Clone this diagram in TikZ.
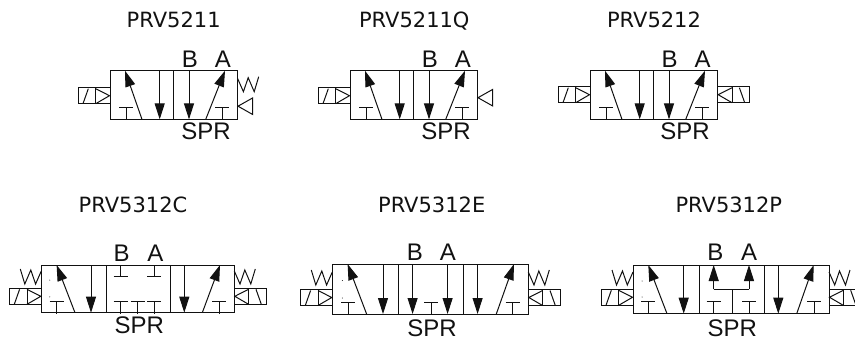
\documentclass[tikz,border=0pt]{standalone}
\usepackage{fontspec}
\setmainfont{DejaVu Sans}
\newfontfamily\portfont{Liberation Sans}
\usetikzlibrary{arrows.meta}
\definecolor{ink}{HTML}{111111}
\tikzset{
  sym/.style={draw=ink,line width=1pt,line join=miter},
  thin sym/.style={draw=ink,line width=1pt},
  flow/.style={sym,-{Triangle[length=16pt,width=10pt]}},
  title/.style={font=\fontsize{21pt}{24pt}\selectfont,text=ink,inner sep=0pt,anchor=base},
  port/.style={font=\portfont\fontsize{24pt}{26pt}\selectfont,text=ink,inner sep=0pt,anchor=base},
  solenoidpic/.pic={
    \draw[sym] (-32,0) rectangle (0,16);
    \draw[sym] (-14.3,0) -- (-14.3,16);
    \draw[sym] (-14.3,1) -- (-0.5,8) -- (-14.3,16);
    \draw[sym] (-27,16) -- (-21.7,1);
  },
  springpic/.pic={
    \draw[thin sym] (-21,0) -- (-16.5,15) -- (-10.5,1) -- (-5.7,15) -- (0,2);
  },
  pilotpic/.pic={
    \draw[sym] (15,-8.3) -- (0.3,0) -- (15,8.3) -- cycle;
  },
  teepic/.pic={
    \draw[sym] (-7,0) -- (7,0);
    \draw[sym] (0,0) -- (0,12);
  }
}
\begin{document}
\begin{tikzpicture}[x=1pt,y=-1pt]
\useasboundingbox (0,0) rectangle (855,340);
% titles
\node[title] (t1) at (173.7,27.3) {PRV5211};
\node[title] (t2) at (414.3,27.3) {PRV5211Q};
\node[title] (t3) at (654,27.3) {PRV5212};
\node[title] (t4) at (133,212.3) {PRV5312C};
\node[title] (t5) at (431.7,212.3) {PRV5312E};
\node[title] (t6) at (728.8,212.3) {PRV5312P};
% ---- valve 1
\begin{scope}[shift={(110,70.7)}]
  \draw[sym] (0,0) rectangle (127.7,48.7);
  \draw[sym] (63.3,0) -- (63.3,48.7);
  \draw[flow] (32,48.7) -- (15,0);
  \draw[flow] (49.7,0) -- (49.7,48.7);
  \draw[flow] (79,0) -- (79,48.7);
  \draw[flow] (95.7,48.7) -- (115,0);
  \pic at (16.3,36.7) {teepic};
  \pic at (112,36.7) {teepic};
  \pic at (0,17) {solenoidpic};
  \pic[xscale=-1] at (127.7,6) {springpic};
  \pic at (127.7,35.5) {pilotpic};
\end{scope}
\node[port] (b1) at (190,67.3) {B};
\node[port] (a1) at (223,67.3) {A};
\node[port] (s1) at (206,139.7) {SPR};
% ---- valve 2
\begin{scope}[shift={(350,70.7)}]
  \draw[sym] (0,0) rectangle (127.7,48.7);
  \draw[sym] (63.3,0) -- (63.3,48.7);
  \draw[flow] (32,48.7) -- (15,0);
  \draw[flow] (49.7,0) -- (49.7,48.7);
  \draw[flow] (79,0) -- (79,48.7);
  \draw[flow] (95.7,48.7) -- (115,0);
  \pic at (16.3,36.7) {teepic};
  \pic at (112,36.7) {teepic};
  \pic at (0,17) {solenoidpic};
  \pic at (127.7,27) {pilotpic};
\end{scope}
\node[port] (b2) at (430,67.3) {B};
\node[port] (a2) at (463,67.3) {A};
\node[port] (s2) at (446,139.7) {SPR};
% ---- valve 3
\begin{scope}[shift={(590,70.7)}]
  \draw[sym] (0,0) rectangle (127.7,48.7);
  \draw[sym] (63.3,0) -- (63.3,48.7);
  \draw[flow] (32,48.7) -- (15,0);
  \draw[flow] (49.7,0) -- (49.7,48.7);
  \draw[flow] (79,0) -- (79,48.7);
  \draw[flow] (95.7,48.7) -- (115,0);
  \pic at (16.3,36.7) {teepic};
  \pic at (112,36.7) {teepic};
  \pic at (0,16) {solenoidpic};
  \pic[xscale=-1] at (127.7,16) {solenoidpic};
\end{scope}
\node[port] (b3) at (669.5,67.3) {B};
\node[port] (a3) at (702.5,67.3) {A};
\node[port] (s3) at (685,139.7) {SPR};
% ---- valve C
\begin{scope}[shift={(41.3,265)}]
  \draw[sym] (0,0) rectangle (193,47.7);
  \draw[sym] (65.3,0) -- (65.3,47.7);
  \draw[sym] (129,0) -- (129,47.7);
  \draw[flow] (33.7,47.7) -- (15.3,0);
  \draw[flow] (49.7,0) -- (49.7,47.7);
  \draw[flow] (143,0) -- (143,47.7);
  \draw[flow] (161,47.7) -- (178.7,0);
  \pic at (15.3,36.7) {teepic};
  \pic at (178,36.7) {teepic};
  \pic at (79.3,36.7) {teepic};
  \pic at (96.3,36.7) {teepic};
  \pic at (113,36.7) {teepic};
  \draw[sym] (72.3,11) -- (86.3,11) (79.3,11) -- (79.3,0);
  \draw[sym] (106,11) -- (120,11) (113,11) -- (113,0);
  \fill[ink] (8.5,15.1) circle (0.5) (8.5,31.9) circle (0.5);
  \pic at (0,23.3) {solenoidpic};
  \pic[xscale=-1] at (193,23.3) {solenoidpic};
  \pic at (0,4) {springpic};
  \pic[xscale=-1] at (193,4) {springpic};
\end{scope}
\node[port] (b4) at (121.7,261.7) {B};
\node[port] (a4) at (155.3,261.7) {A};
\node[port] (s4) at (139.3,333.3) {SPR};
% ---- valve E
\begin{scope}[shift={(332.3,264)}]
  \draw[sym] (0,0) rectangle (196,50);
  \draw[sym] (66,0) -- (66,50);
  \draw[sym] (131.3,0) -- (131.3,50);
  \draw[flow] (34.3,50) -- (15.3,0);
  \draw[flow] (50.7,0) -- (50.7,50);
  \draw[flow] (80.3,0) -- (80.3,50);
  \draw[flow] (115.3,0) -- (115.3,50);
  \draw[flow] (145.3,0) -- (145.3,50);
  \draw[flow] (164,50) -- (181.7,0);
  \pic[yscale=1.1] at (16,38) {teepic};
  \pic[yscale=1.1] at (98.7,38) {teepic};
  \pic[yscale=1.1] at (180.3,38) {teepic};
  \fill[ink] (10,16.5) circle (0.5) (10,34) circle (0.5);
  \pic at (0,25.5) {solenoidpic};
  \pic[xscale=-1] at (196,25.5) {solenoidpic};
  \pic at (0,6) {springpic};
  \pic[xscale=-1] at (196,6) {springpic};
\end{scope}
\node[port] (b5) at (415,260) {B};
\node[port] (a5) at (448,260) {A};
\node[port] (s5) at (432,336) {SPR};
% ---- valve P
\begin{scope}[shift={(633,265)}]
  \draw[sym] (0,0) rectangle (196,48.7);
  \draw[sym] (66,0) -- (66,48.7);
  \draw[sym] (131,0) -- (131,48.7);
  \draw[flow] (34,48.7) -- (15.3,0);
  \draw[flow] (50.7,0) -- (50.7,48.7);
  \draw[flow] (145.3,0) -- (145.3,48.7);
  \draw[flow] (163.7,48.7) -- (180.7,0);
  \draw[flow] (80.7,24.3) -- (80.7,0);
  \draw[flow] (116,24.3) -- (116,0);
  \draw[sym] (80.7,24.3) -- (116,24.3) (99.3,24.3) -- (99.3,48.7);
  \pic at (15.3,36.7) {teepic};
  \pic at (80.7,36.7) {teepic};
  \pic at (116,36.7) {teepic};
  \pic at (181.3,36.7) {teepic};
  \fill[ink] (9,16) circle (0.5) (9,32) circle (0.5);
  \pic at (0,24.3) {solenoidpic};
  \pic[xscale=-1] at (196,24.3) {solenoidpic};
  \pic at (0,5) {springpic};
  \pic[xscale=-1] at (196,5) {springpic};
\end{scope}
\node[port] (b6) at (715.3,260) {B};
\node[port] (a6) at (749,260) {A};
\node[port] (s6) at (732.3,336) {SPR};
\end{tikzpicture}
\end{document}
